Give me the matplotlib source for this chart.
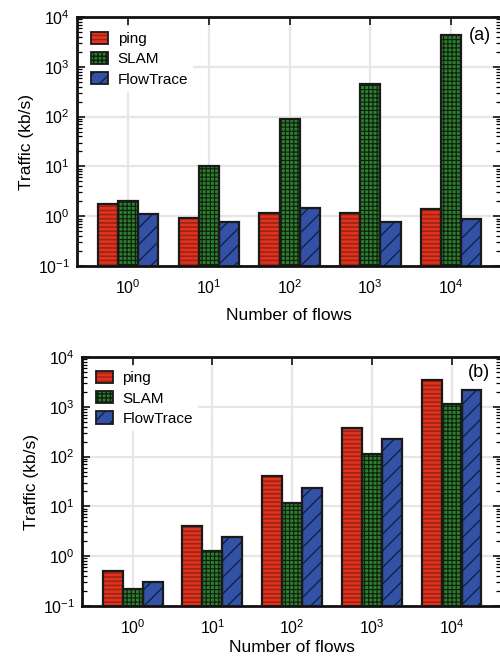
import numpy as np
import matplotlib
matplotlib.use("Agg")
import matplotlib.pyplot as plt
from matplotlib.patches import Patch

plt.rcParams['font.family'] = ['Liberation Sans', 'DejaVu Sans']
plt.rcParams['mathtext.default'] = 'regular'

# number of flows (x categories)
flows = ['$10^{0}$', '$10^{1}$', '$10^{2}$', '$10^{3}$', '$10^{4}$']
series = ['ping', 'SLAM', 'FlowTrace']

# (a) traffic in kb/s
a_ping = [1.8, 0.94, 1.15, 1.15, 1.4]
a_slam = [2.0, 10, 90, 450, 4300]
a_flowtrace = [1.1, 0.75, 1.47, 0.78, 0.87]

# (b) traffic in kb/s
b_ping = [0.5, 4.1, 40, 380, 3400]
b_slam = [0.22, 1.26, 11.8, 112, 1130]
b_flowtrace = [0.31, 2.4, 23, 225, 2200]

fills = ['#e3321e', '#2f7d2f', '#3352a6']
hatch_cols = ['#9c2414', '#0c1f0c', '#14204a']
hatches = ['----', '++++', '//']
hatch_lw = [1.2, 0.8, 1.0]
width = 0.25


def draw(ax, vals, tag, leg_anchor, ylabelpad, xlabelpad):
    x = np.arange(len(flows))
    ax.set_yscale('log')
    handles = []
    for i, v in enumerate(vals):
        pos = x + (i - 1) * width
        with plt.rc_context({'hatch.linewidth': hatch_lw[i]}):
            ax.bar(pos, v, width, color=fills[i], edgecolor=hatch_cols[i],
                   hatch=hatches[i], linewidth=0, zorder=2)
            hp = Patch(facecolor=fills[i], edgecolor=hatch_cols[i],
                       hatch=hatches[i], linewidth=0)
        ax.bar(pos, v, width, fill=False, edgecolor='#1a1a1a',
               linewidth=1.6, zorder=3)
        handles.append((hp, Patch(fill=False, edgecolor='#1a1a1a',
                                  linewidth=1.3)))
    ax.set_xlim(-0.635, 4.62)
    ax.set_ylim(1e-1, 1e4)
    ax.set_xticks(x)
    ax.set_xticklabels(flows, fontsize=11.5)
    ax.tick_params(axis='x', which='both', direction='in', top=True,
                   bottom=False, length=6, width=1.1, pad=9)
    ax.tick_params(axis='y', which='major', direction='in', left=True,
                   right=True, length=6, width=1.1, labelsize=11.5, pad=5)
    ax.tick_params(axis='y', which='minor', direction='in', left=True,
                   right=True, length=3.5, width=0.9)
    for s in ax.spines.values():
        s.set_linewidth(2)
        s.set_color('#111111')
    ax.grid(True, which='major', color='#e6e6e6', linewidth=1.6)
    ax.set_axisbelow(True)
    ax.set_ylabel('Traffic (kb/s)', fontsize=12.5, labelpad=ylabelpad)
    ax.set_xlabel('Number of flows', fontsize=12.5, labelpad=xlabelpad)
    ax.text(*tag[1], tag[0], transform=ax.transAxes, fontsize=13,
            ha='center', va='center')
    leg = ax.legend(handles, series, loc='upper left',
                    bbox_to_anchor=leg_anchor, fontsize=11, frameon=True,
                    fancybox=False, framealpha=1, edgecolor='none',
                    handlelength=1.1, handleheight=0.85, handletextpad=0.65,
                    labelspacing=0.38, borderpad=0.35, borderaxespad=0.0)
    leg.get_frame().set_facecolor('white')
    leg.set_zorder(5)


fig = plt.figure(figsize=(5, 6.58), dpi=100)
ax1 = fig.add_axes([0.154, 0.5957, 0.848, 0.3784])
ax2 = fig.add_axes([0.164, 0.079, 0.838, 0.3784])

draw(ax1, [a_ping, a_slam, a_flowtrace], ('(a)', (0.95, 0.924)),
     (0.02, 0.962), 3, 8)
draw(ax2, [b_ping, b_slam, b_flowtrace], ('(b)', (0.947, 0.936)),
     (0.02, 0.965), 3, 2)

fig.savefig('out.png', dpi=100)
